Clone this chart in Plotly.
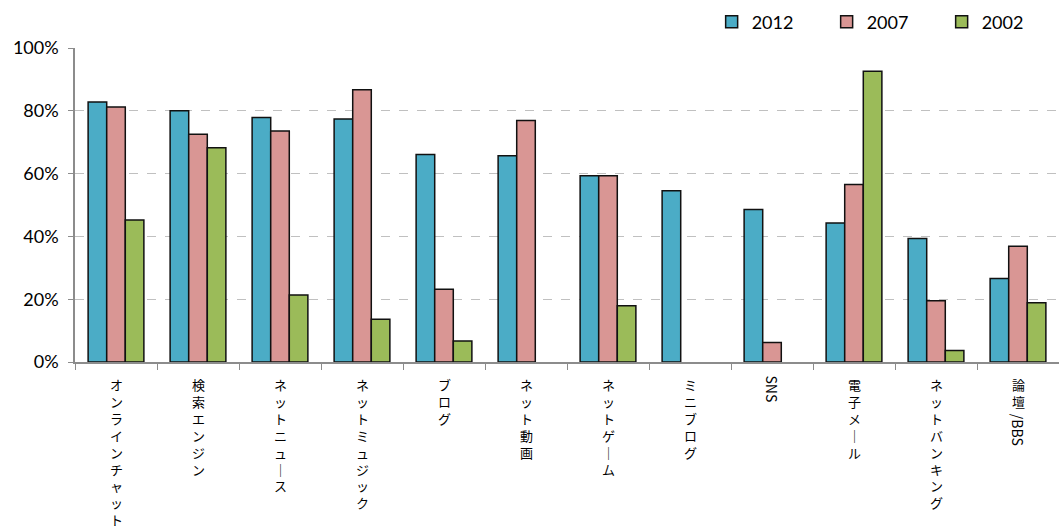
import plotly.graph_objects as go

categories = ["オンラインチャット", "検索エンジン", "ネットニュース", "ネットミュジック", "ブログ",
              "ネット動画", "ネットゲーム", "ミニブログ", "SNS", "電子メール", "ネットバンキング", "論壇/BBS"]
series_names = ["2012", "2007", "2002"]
v2012 = [82.8, 80.0, 77.9, 77.4, 66.1, 65.7, 59.3, 54.5, 48.6, 44.3, 39.3, 26.6]
v2007 = [81.2, 72.5, 73.6, 86.7, 23.2, 76.9, 59.3, None, 6.2, 56.5, 19.5, 36.9]
v2002 = [45.2, 68.2, 21.3, 13.6, 6.7, None, 17.9, None, None, 92.6, 3.7, 18.9]
y_ticks = [0, 20, 40, 60, 80, 100]

colors = ["#4bacc6", "#d99694", "#9bbb59"]

fig = go.Figure()
for name, vals, col in zip(series_names, [v2012, v2007, v2002], colors):
    fig.add_trace(go.Bar(
        x=categories, y=vals, name=name,
        marker=dict(color=col, line=dict(color="#111111", width=1.5)),
    ))

CJK_FONT = "Noto Sans CJK JP"
LBL_SIZE = 13
LINE_H = LBL_SIZE * 1.3
BASE_SHIFT = -11

annotations = []
for cat in categories:
    idx = 0
    while idx < len(cat) and ord(cat[idx]) > 127:
        idx += 1
    cjk, latin = cat[:idx], cat[idx:]
    if cjk:
        stacked = "<br>".join("｜" if ch == "ー" else ch for ch in cjk)
        annotations.append(dict(
            x=cat, xref="x", y=0, yref="paper", yanchor="top", xanchor="center",
            yshift=BASE_SHIFT, text=stacked, showarrow=False,
            font=dict(family=CJK_FONT, size=LBL_SIZE, color="#000000"),
        ))
    if latin:
        annotations.append(dict(
            x=cat, xref="x", y=0, yref="paper", yanchor="top", xanchor="center",
            yshift=BASE_SHIFT - len(cjk) * LINE_H - (5 if cjk else 0), text=latin, showarrow=False,
            textangle=90,
            font=dict(family=CJK_FONT, size=14, color="#000000"),
        ))

fig.update_layout(
    width=1059, height=531,
    margin=dict(l=75, r=0, t=48, b=169),
    paper_bgcolor="white", plot_bgcolor="white",
    barmode="group", bargap=0.32, bargroupgap=0,
    font=dict(family="Lato", size=18, color="#000000"),
    showlegend=True,
    legend=dict(orientation="h", x=0.647, xanchor="left", y=1.083, yanchor="middle",
                font=dict(family="Lato", size=18, color="#000000"),
                entrywidth=70, entrywidthmode="pixels", bgcolor="rgba(0,0,0,0)"),
    annotations=annotations,
)
fig.update_xaxes(
    showticklabels=False, ticks="outside", tickson="boundaries", ticklen=6,
    tickcolor="#8c8c8c", showline=True, linecolor="#8c8c8c", linewidth=1.5,
    showgrid=False, zeroline=False,
)
fig.update_yaxes(
    range=[0, 100], tickvals=y_ticks, ticktext=[f"{t}%" for t in y_ticks],
    ticks="outside", ticklen=5, tickcolor="#8c8c8c", ticklabelstandoff=6,
    showline=True, linecolor="#8c8c8c", linewidth=1.5,
    showgrid=True, gridcolor="#c0c0c0", griddash="dash", gridwidth=1.2,
    zeroline=False,
)

fig.write_html("out.html")
